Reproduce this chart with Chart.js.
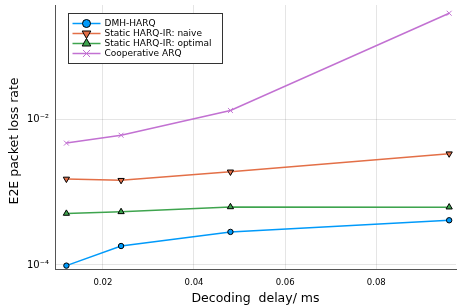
<!DOCTYPE html>
<html>
<head>
<meta charset="utf-8">
<script src="https://cdn.jsdelivr.net/npm/chart.js@4"></script>
<style>
  html, body { margin: 0; padding: 0; background: #fff; }
  #wrap { width: 461px; height: 306px; }
</style>
</head>
<body>
<div id="wrap"><canvas id="chart" width="461" height="306"></canvas></div>
<script>
// Chart data
const delays = [0.012, 0.024, 0.048, 0.096];
const dmhHarq = [0.98e-4, 1.82e-4, 2.84e-4, 4.1e-4];
const staticNaive = [1.51e-3, 1.45e-3, 1.89e-3, 3.35e-3];
const staticOptimal = [5.08e-4, 5.35e-4, 6.25e-4, 6.2e-4];
const cooperativeArq = [4.68e-3, 6.0e-3, 1.31e-2, 0.282];
const xTicks = [0.02, 0.04, 0.06, 0.08];
const yTicks = [1e-4, 1e-2];
const yTickLabels = ['10\u207B\u2074', '10\u207B\u00B2'];

const FONT = 'DejaVu Sans';

function pts(ys) {
  return delays.map((x, i) => ({ x: x, y: ys[i] }));
}

// legend drawn inside the plot, like the reference
const insideLegend = {
  id: 'insideLegend',
  afterDraw(chart) {
    const ctx = chart.ctx;
    const x0 = 68.5, y0 = 13.5, w = 154, h = 50;
    ctx.save();
    ctx.fillStyle = '#fff';
    ctx.fillRect(x0, y0, w, h);
    ctx.strokeStyle = '#333';
    ctx.lineWidth = 1;
    ctx.strokeRect(x0, y0, w, h);
    chart.data.datasets.forEach((ds, i) => {
      const y = 23.5 + i * 10;
      ctx.strokeStyle = ds.borderColor;
      ctx.lineWidth = 1.5;
      ctx.beginPath();
      ctx.moveTo(72.5, y);
      ctx.lineTo(100.5, y);
      ctx.stroke();
      ctx.fillStyle = ds.pointBackgroundColor;
      ctx.strokeStyle = ds.pointBorderColor;
      ctx.lineWidth = ds.pointBorderWidth;
      Chart.helpers.drawPoint(ctx, {
        pointStyle: ds.pointStyle,
        radius: ds.legendRadius,
        rotation: ds.pointRotation || 0,
        borderWidth: ds.pointBorderWidth
      }, 86.5, y);
      ctx.fillStyle = '#000';
      ctx.font = '9px ' + FONT;
      ctx.textBaseline = 'middle';
      ctx.fillText(ds.label, 104.5, y + 0.5);
    });
    ctx.restore();
  }
};

const ctx = document.getElementById('chart').getContext('2d');
new Chart(ctx, {
  type: 'line',
  data: {
    datasets: [
      {
        label: 'DMH-HARQ',
        data: pts(dmhHarq),
        borderColor: '#009AFA',
        backgroundColor: '#009AFA',
        pointBackgroundColor: '#009AFA',
        pointBorderColor: '#000',
        pointBorderWidth: 1,
        pointStyle: 'circle',
        pointRadius: 2.7,
        legendRadius: 4
      },
      {
        label: 'Static HARQ-IR: naive',
        data: pts(staticNaive),
        borderColor: '#E36F47',
        backgroundColor: '#E36F47',
        pointBackgroundColor: '#E36F47',
        pointBorderColor: '#000',
        pointBorderWidth: 1,
        pointStyle: 'triangle',
        pointRotation: 180,
        pointRadius: 3.6,
        legendRadius: 5
      },
      {
        label: 'Static HARQ-IR: optimal',
        data: pts(staticOptimal),
        borderColor: '#3EA44E',
        backgroundColor: '#3EA44E',
        pointBackgroundColor: '#3EA44E',
        pointBorderColor: '#000',
        pointBorderWidth: 1,
        pointStyle: 'triangle',
        pointRadius: 3.6,
        legendRadius: 5
      },
      {
        label: 'Cooperative ARQ',
        data: pts(cooperativeArq),
        borderColor: '#C271D2',
        backgroundColor: '#C271D2',
        pointBackgroundColor: '#C271D2',
        pointBorderColor: '#C271D2',
        pointBorderWidth: 1,
        pointStyle: 'crossRot',
        pointRadius: 3.5,
        legendRadius: 5
      }
    ]
  },
  options: {
    responsive: false,
    animation: false,
    layout: { padding: { top: 4, right: 1, left: 0, bottom: 0 } },
    elements: { line: { borderWidth: 1.5, tension: 0 } },
    plugins: {
      legend: { display: false },
      tooltip: { enabled: false }
    },
    scales: {
      x: {
        type: 'linear',
        min: 0.0095,
        max: 0.0975,
        afterBuildTicks: (scale) => { scale.ticks = xTicks.map(v => ({ value: v })); },
        afterFit: (scale) => {
          scale.height = 37;
          scale.paddingLeft = 0;
          scale.paddingRight = 0;
        },
        grid: { color: 'rgba(0,0,0,0.1)', drawTicks: false },
        border: { color: '#555', width: 1 },
        ticks: {
          padding: 9,
          color: '#000',
          font: { family: FONT, size: 8.5 },
          callback: (v) => v.toFixed(2)
        },
        title: {
          display: true,
          text: 'Decoding  delay/ ms',
          color: '#000',
          font: { family: FONT, size: 12.5 },
          padding: { top: 0, bottom: 0 }
        }
      },
      y: {
        type: 'logarithmic',
        min: Math.pow(10, -4.055),
        max: Math.pow(10, -0.437),
        afterBuildTicks: (scale) => { scale.ticks = yTicks.map(v => ({ value: v })); },
        afterFit: (scale) => {
          scale.width = 55;
          scale.paddingTop = 0;
          scale.paddingBottom = 0;
        },
        grid: { color: 'rgba(0,0,0,0.1)', drawTicks: false },
        border: { color: '#555', width: 1 },
        ticks: {
          padding: 6,
          color: '#000',
          font: { family: FONT, size: 10 },
          callback: (v) => yTickLabels[yTicks.indexOf(v)]
        },
        title: {
          display: true,
          text: 'E2E packet loss rate  ',
          color: '#000',
          font: { family: FONT, size: 12.5 },
          padding: { top: 7, bottom: 0 }
        }
      }
    }
  },
  plugins: [insideLegend]
});
</script>
</body>
</html>
